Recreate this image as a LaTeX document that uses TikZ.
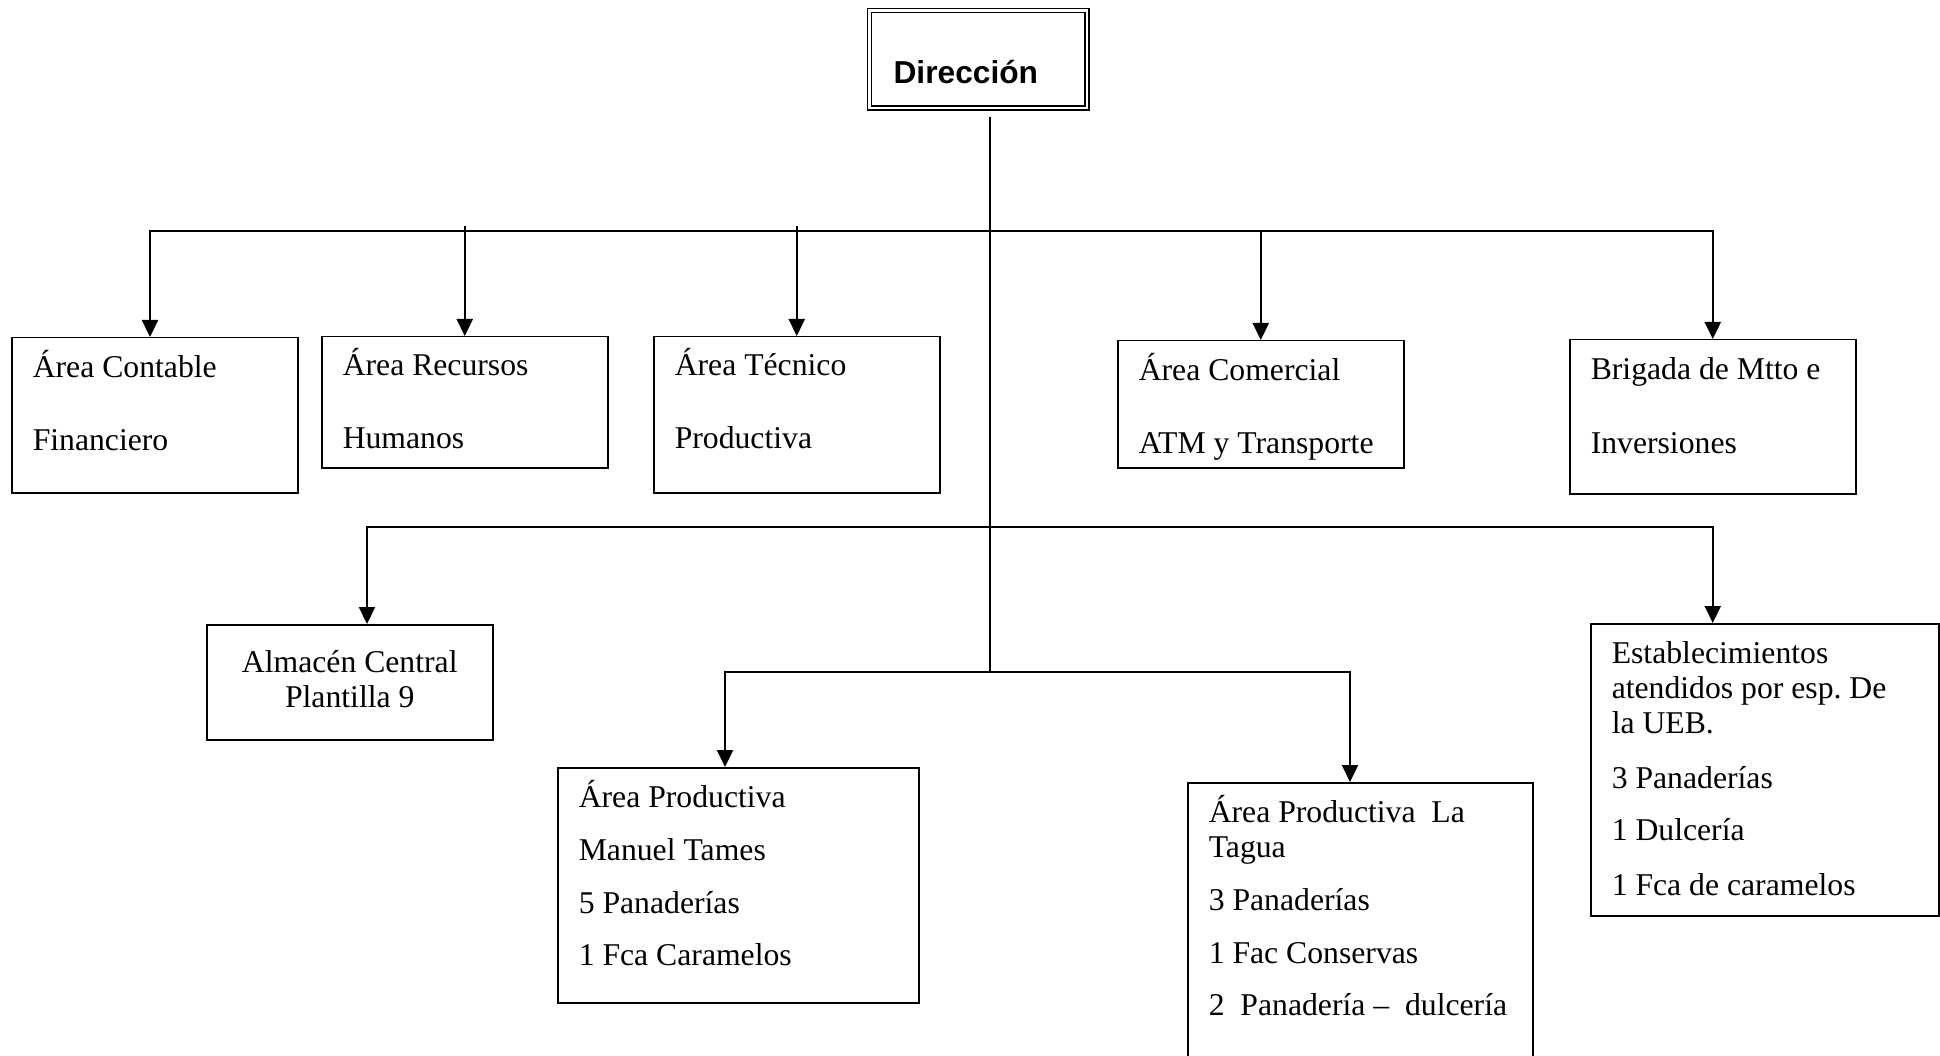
\documentclass[tikz,border=0pt]{standalone}
\usepackage{fontspec}
\setmainfont{Liberation Serif}
\newfontfamily\dirfont{Liberation Sans}
\usetikzlibrary{arrows.meta}

\tikzset{
  caja/.style={draw, line width=1.5pt, rectangle, anchor=north west,
    inner xsep=21pt, inner ysep=0pt, align=flush left,
    minimum width=286pt, text width=244pt,
    font=\fontsize{31.7}{35}\selectfont\frenchspacing},
  linea/.style={line width=2.3pt},
  flecha/.style={line width=2.3pt, -{Triangle[length=17pt,width=16pt]}},
}

\begin{document}
\begin{tikzpicture}[x=1pt, y=-1pt]
\useasboundingbox (0,0) rectangle (1940,1056);

% direccion
\draw (868.8,9.8) node[caja, double, line width=1.6pt, double distance=2.4pt,
  inner xsep=24pt, minimum width=217.4pt, text width=169.4pt,
  minimum height=97.4pt, text height=73.2pt, text depth=24.2pt,
  font=\dirfont\bfseries\fontsize{31.7}{35}\selectfont] (dir) {Dirección};

% primer nivel
\draw (11,337) node[caja, minimum height=155pt, text height=40pt, text depth=115pt] (conta) {Área Contable\\[38pt]Financiero};
\draw (321,336) node[caja, minimum height=131pt, text height=39pt, text depth=92pt] (recur) {Área Recursos\\[38pt]Humanos};
\draw (653,336) node[caja, minimum height=156pt, text height=39pt, text depth=117pt] (tecni) {Área Técnico\\[38pt]Productiva};
\draw (1117,340) node[caja, minimum height=127pt, text height=40pt, text depth=87pt] (comer) {Área Comercial\\[38pt]ATM y Transporte};
\draw (1569,339) node[caja, minimum height=154pt, text height=40pt, text depth=114pt] (brig) {Brigada de Mtto e\\[39pt]Inversiones};

% segundo nivel
\draw (206,624) node[caja, align=flush center, minimum height=115pt, text height=48pt, text depth=67pt] (alm) {Almacén Central\\Plantilla 9};
\draw (1590,623) node[caja, minimum width=348pt, text width=306pt, minimum height=292pt, text height=40pt, text depth=252pt] (estab)
  {Establecimientos\\atendidos por esp. De\\la UEB.\\[20pt]3 Panaderías\\[17pt]1 Dulcería\\[20pt]1 Fca de caramelos};

% areas productivas
\draw (557,767) node[caja, minimum width=361pt, text width=319pt, minimum height=235pt, text height=40pt, text depth=195pt] (manu)
  {Área Productiva\\[18pt]Manuel Tames\\[18pt]5 Panaderías\\[17pt]1 Fca Caramelos};
\draw (1187,782) node[caja, minimum width=345pt, text width=303pt, minimum height=300pt, text height=40pt, text depth=260pt] (tagua)
  {Área Productiva\ \ La\\Tagua\\[18pt]3 Panaderías\\[18pt]1 Fac Conservas\\[17pt]\mbox{2\ \ Panadería –\ \ dulcería}};

% conectores
\coordinate (b1) at (990,231);
\coordinate (b2) at (990,527);
\coordinate (b3) at (990,672);
\coordinate (d1) at (150,231);
\coordinate (d2) at (367,527);
\coordinate (d3) at (b2 -| brig.north);
\coordinate (d4) at (725,672);
\coordinate (d5) at (1350,672);

\draw[linea, shorten <=8pt] (dir.south -| b1) -- (b3);
\draw[flecha] (b1) -- (d1) -- (d1 |- conta.north);
\draw[flecha] (b1) -- (b1 -| brig.north) -- (brig.north);
\draw[flecha, shorten <=-5pt] (b1 -| recur.north) -- (recur.north);
\draw[flecha, shorten <=-5pt] (b1 -| tecni.north) -- (tecni.north);
\draw[flecha] (b1 -| comer.north) -- (comer.north);

\draw[flecha] (b2) -- (d2) -- (d2 |- alm.north);
\draw[flecha] (b2) -- (d3) -- (d3 |- estab.north);

\draw[flecha] (b3) -- (d4) -- (d4 |- manu.north);
\draw[flecha] (b3) -- (d5) -- (d5 |- tagua.north);
\end{tikzpicture}
\end{document}
